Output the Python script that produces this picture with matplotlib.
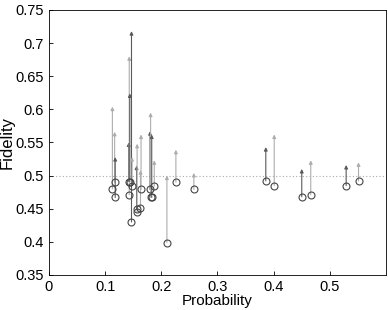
import matplotlib
matplotlib.use("Agg")
import matplotlib.pyplot as plt

prob = [0.113, 0.117, 0.118, 0.142, 0.143, 0.144, 0.147, 0.148, 0.156, 0.157,
        0.163, 0.164, 0.180, 0.181, 0.183, 0.1875, 0.210, 0.226, 0.258,
        0.386, 0.401, 0.450, 0.466, 0.529, 0.551]
fid_before = [0.480, 0.490, 0.467, 0.491, 0.471, 0.491, 0.430, 0.485, 0.450, 0.445,
              0.451, 0.479, 0.479, 0.467, 0.467, 0.484, 0.399, 0.490, 0.479,
              0.492, 0.485, 0.468, 0.471, 0.485, 0.492]
fid_after = [0.604, 0.566, 0.528, 0.550, 0.680, 0.624, 0.718, 0.528, 0.515, 0.548,
             0.508, 0.562, 0.567, 0.595, 0.562, 0.523, 0.500, 0.539, 0.504,
             0.543, 0.562, 0.510, 0.523, 0.516, 0.520]
shade = ['l', 'l', 'd', 'd', 'l', 'd', 'd', 'l', 'd', 'l',
         'l', 'l', 'd', 'l', 'd', 'l', 'l', 'l', 'l',
         'd', 'l', 'd', 'l', 'd', 'l']
colors = {'d': '#5a5a5a', 'l': '#adadad'}

plt.rcParams['font.family'] = ['Liberation Sans', 'DejaVu Sans']
fig = plt.figure(figsize=(3.88, 3.10), dpi=100)
ax = fig.add_axes([0.126, 0.113, 0.869, 0.855])

ax.axhline(0.5, color='#aaaaaa', linestyle=(0, (1, 2)), linewidth=0.8, zorder=1)

for x, y0, y1, s in zip(prob, fid_before, fid_after, shade):
    ax.annotate('', xy=(x, y1), xytext=(x, y0),
                arrowprops=dict(arrowstyle='-|>', color=colors[s], lw=0.8,
                                mutation_scale=5, shrinkA=0, shrinkB=0),
                zorder=2)
ax.plot(prob, fid_before, 'o', markerfacecolor='none', markeredgecolor='#454545',
        markersize=5, markeredgewidth=0.8, zorder=3)

ax.set_xlim(0, 0.6)
ax.set_ylim(0.35, 0.75)
ax.set_xticks([0, 0.1, 0.2, 0.3, 0.4, 0.5])
ax.set_xticklabels(['0', '0.1', '0.2', '0.3', '0.4', '0.5'])
ax.set_yticks([0.35, 0.4, 0.45, 0.5, 0.55, 0.6, 0.65, 0.7, 0.75])
ax.set_yticklabels(['0.35', '0.4', '0.45', '0.5', '0.55', '0.6', '0.65', '0.7', '0.75'])
ax.tick_params(direction='in', length=3, labelsize=10.5, width=0.6)
for sp in ax.spines.values():
    sp.set_linewidth(0.6)
ax.set_xlabel('Probability', fontsize=11, labelpad=0)
ax.set_ylabel('Fidelity', fontsize=12, labelpad=1)

fig.savefig('out.png', dpi=100)
